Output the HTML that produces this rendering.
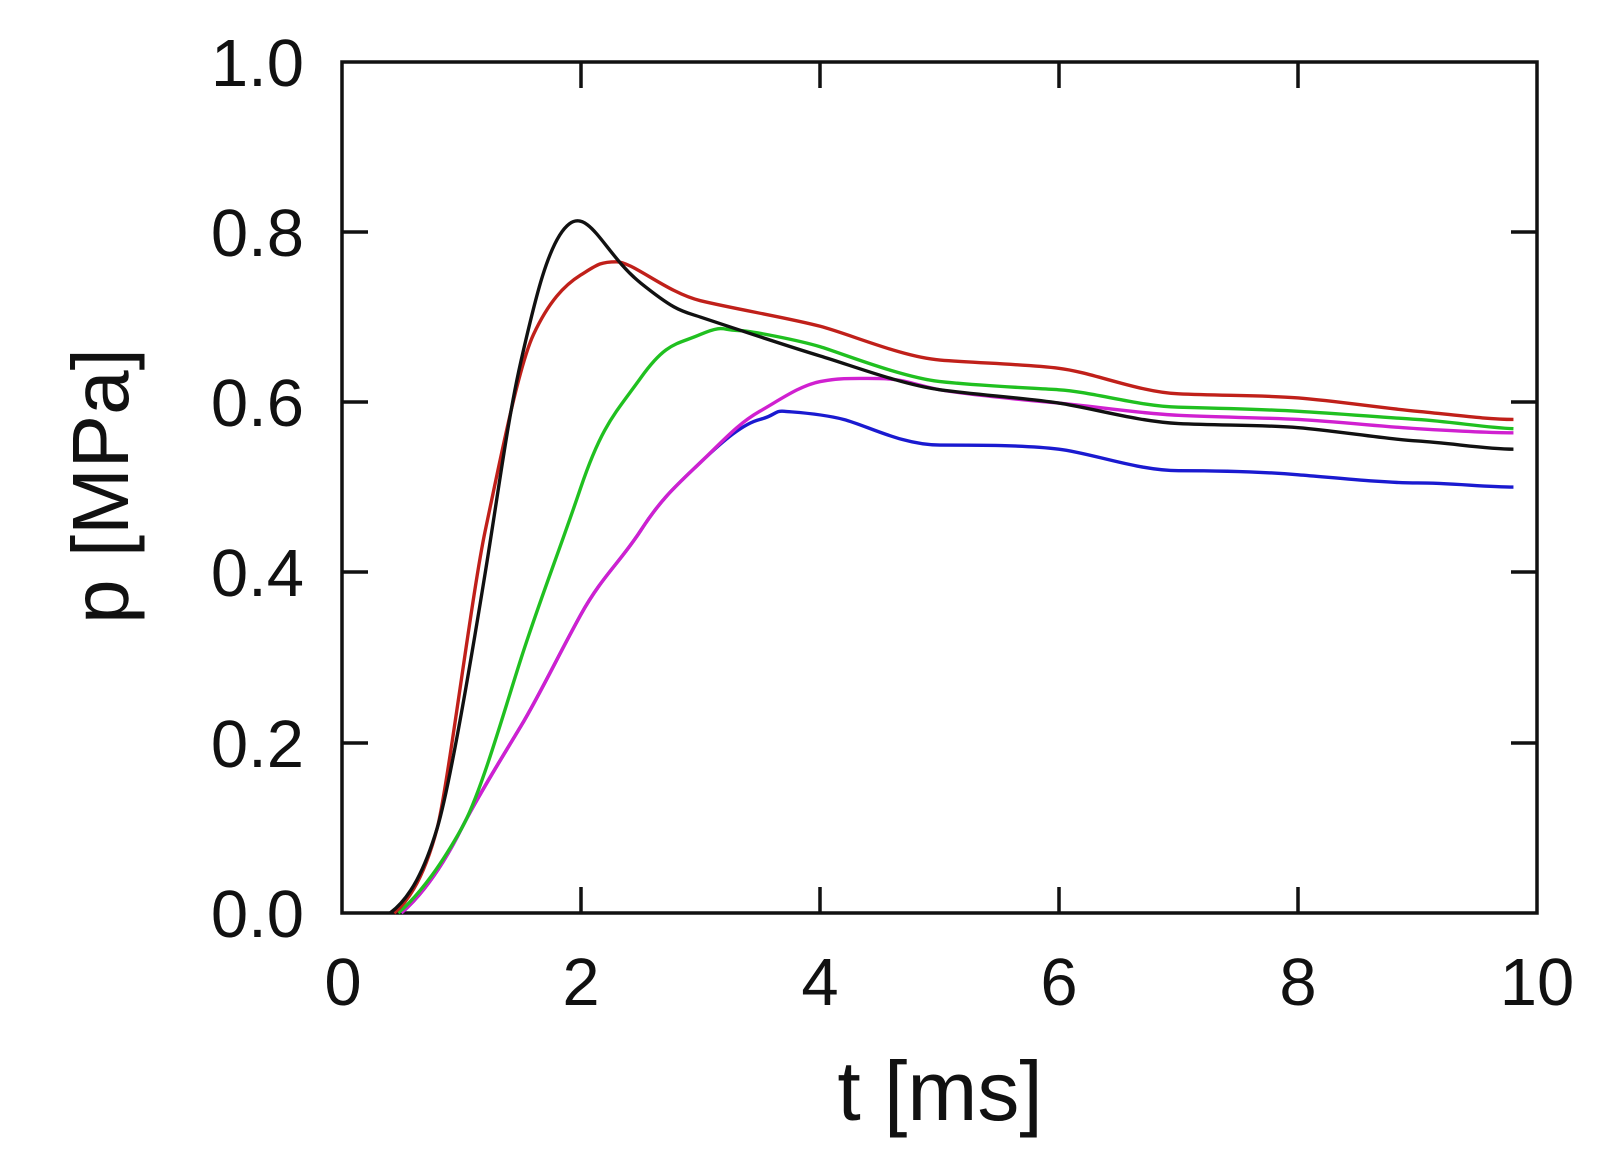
<!DOCTYPE html>
<html><head><style>body{margin:0;background:#fff}svg{display:block}text{font-family:"Liberation Sans",sans-serif;fill:#111}</style></head>
<body>
<svg width="1602" height="1173" viewBox="0 0 1602 1173">
<rect x="342" y="62" width="1195" height="851" fill="none" stroke="#111" stroke-width="3.5"/>
<g stroke="#111" stroke-width="3.5">
<line x1="581" y1="913" x2="581" y2="887"/><line x1="820" y1="913" x2="820" y2="887"/><line x1="1059" y1="913" x2="1059" y2="887"/><line x1="1298" y1="913" x2="1298" y2="887"/>
<line x1="581" y1="62" x2="581" y2="88"/><line x1="820" y1="62" x2="820" y2="88"/><line x1="1059" y1="62" x2="1059" y2="88"/><line x1="1298" y1="62" x2="1298" y2="88"/>
<line x1="342" y1="743" x2="368" y2="743"/><line x1="342" y1="572" x2="368" y2="572"/><line x1="342" y1="402" x2="368" y2="402"/><line x1="342" y1="232" x2="368" y2="232"/>
<line x1="1537" y1="743" x2="1511" y2="743"/><line x1="1537" y1="572" x2="1511" y2="572"/><line x1="1537" y1="402" x2="1511" y2="402"/><line x1="1537" y1="232" x2="1511" y2="232"/>
</g>
<g font-size="67" text-anchor="end">
<text x="304" y="937">0.0</text><text x="304" y="767">0.2</text><text x="304" y="596">0.4</text><text x="304" y="426">0.6</text><text x="304" y="256">0.8</text><text x="304" y="86">1.0</text>
</g>
<g font-size="67" text-anchor="middle">
<text x="343" y="1005">0</text><text x="581" y="1005">2</text><text x="820" y="1005">4</text><text x="1059" y="1005">6</text><text x="1298" y="1005">8</text><text x="1537" y="1005">10</text>
</g>
<text x="940" y="1120" font-size="84" text-anchor="middle">t [ms]</text>
<text transform="translate(128,486) rotate(-90)" font-size="80" text-anchor="middle">p [MPa]</text>
<g fill="none" stroke-width="3.3" stroke-linejoin="round" transform="matrix(1.024 0 0 1.024 1 -1.4)">
<path stroke="#1a1ad0" d="M391,893 C415,872 435,840 450,810 S490,740 508,710 S545,640 566,602 S605,550 625,519 S660,475 683,453 S725,415 741,411 S755,402 765,403 S800,405 823,411 S880,436 917,436 S1000,436 1033,440 S1110,461 1150,461 S1230,462 1267,465 S1350,473 1383,473 S1450,477 1477,477"/>
<path stroke="#d020d0" d="M391,893 C415,872 435,840 450,810 S490,740 508,710 S545,640 566,602 S605,550 625,519 S660,475 683,453 S720,415 741,403 S780,378 800,374 S835,371 858,371 S895,378 917,382 S1000,392 1033,395 S1110,405 1150,407 S1230,409 1267,411 S1350,418 1383,420 S1450,424 1477,424"/>
<path stroke="#20c020" d="M388,893 C412,872 432,842 450,810 S490,700 508,644 S545,540 566,478 S600,405 625,370 S660,338 683,328 S705,324 718,324 S780,334 800,340 S880,370 917,374 S1000,380 1033,382 S1110,398 1150,399 S1230,401 1267,403 S1350,409 1383,411 S1450,419 1477,420"/>
<path stroke="#c0201a" d="M384,893 C402,878 416,848 426,810 S460,580 473,519 S505,360 520,328 S550,280 566,270 S585,257 601,257 S650,287 683,295 S770,312 800,320 S880,350 917,353 S1000,357 1033,361 S1110,384 1150,386 S1230,387 1267,390 S1350,400 1383,403 S1450,411 1477,411"/>
<path stroke="#111" d="M380,893 C400,878 414,850 426,810 S460,640 473,560 S495,410 508,353 S535,235 555,220 S590,250 625,278 S665,305 683,311 S770,340 800,349 S880,377 917,382 S1000,390 1033,395 S1110,413 1150,415 S1230,416 1267,419 S1350,430 1383,432 S1450,440 1477,440"/>
</g>
</svg>
</body></html>
